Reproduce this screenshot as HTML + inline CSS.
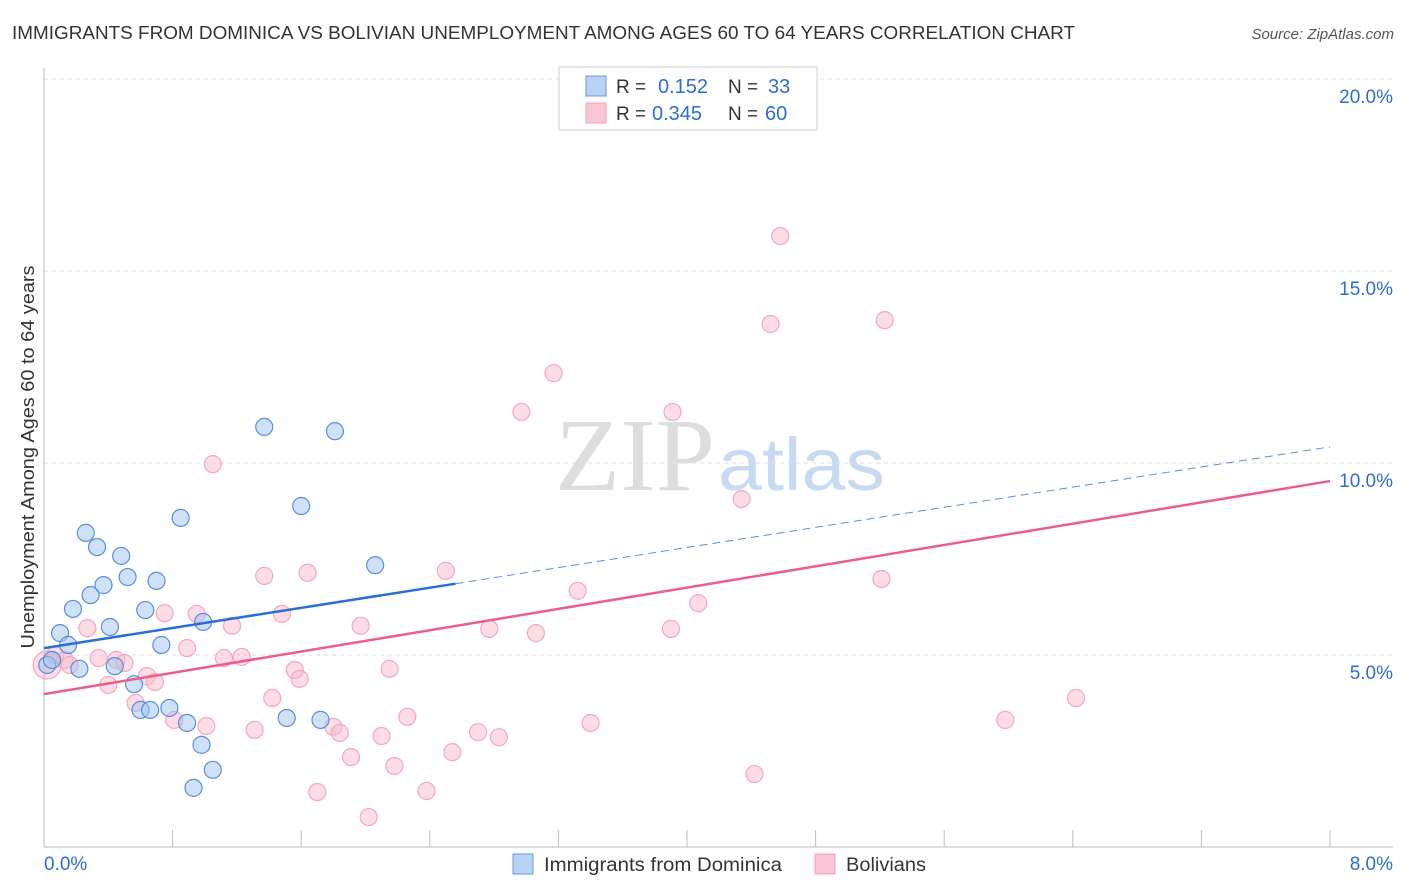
<!DOCTYPE html>
<html><head><meta charset="utf-8"><style>
body{margin:0;background:#fff;font-family:"Liberation Sans",sans-serif}
</style></head><body>
<svg id="c" width="1406" height="892" style="display:block">
<text x="12" y="39" font-size="18" fill="#333" textLength="1063" lengthAdjust="spacingAndGlyphs">IMMIGRANTS FROM DOMINICA VS BOLIVIAN UNEMPLOYMENT AMONG AGES 60 TO 64 YEARS CORRELATION CHART</text>
<text x="1394" y="39" font-size="15" fill="#555" font-style="italic" text-anchor="end">Source: ZipAtlas.com</text>
<text x="555" y="490" font-size="104" fill="#ddd" textLength="160" lengthAdjust="spacingAndGlyphs" font-family="Liberation Serif">ZIP</text>
<text x="718" y="490" font-size="74" fill="#c8daf2" textLength="167" lengthAdjust="spacingAndGlyphs">atlas</text>
<g id="grid"></g><g id="axes"></g><g id="pts"></g><g id="lines"></g>
<text transform="translate(34,457) rotate(-90)" font-size="18" fill="#333" text-anchor="middle" textLength="383" lengthAdjust="spacingAndGlyphs">Unemployment Among Ages 60 to 64 years</text>
<g>
<rect x="559" y="67" width="258" height="63" fill="#fff" stroke="#ccc"/>
<rect x="586" y="76" width="20" height="20" fill="#b8d2f4" stroke="#6a9ad8"/>
<rect x="586" y="103" width="20" height="20" fill="#f9c6d4" stroke="#f0a0b8"/>
<text x="616" y="93" font-size="19" fill="#333">R =</text>
<text x="658" y="93" font-size="20" fill="#2a6fd6">0.152</text>
<text x="728" y="93" font-size="19" fill="#333">N =</text>
<text x="768" y="93" font-size="20" fill="#2a6fd6">33</text>
<text x="616" y="120" font-size="19" fill="#333">R =</text>
<text x="652" y="120" font-size="20" fill="#2a6fd6">0.345</text>
<text x="728" y="120" font-size="19" fill="#333">N =</text>
<text x="765" y="120" font-size="20" fill="#2a6fd6">60</text>
</g>
<g>
<rect x="513" y="854" width="20" height="20" fill="#b8d2f4" stroke="#6a9ad8"/>
<text x="544" y="871" font-size="19" fill="#333" textLength="238" lengthAdjust="spacingAndGlyphs">Immigrants from Dominica</text>
<rect x="815" y="854" width="20" height="20" fill="#f9c6d4" stroke="#f0a0b8"/>
<text x="846" y="871" font-size="19" fill="#333" textLength="80" lengthAdjust="spacingAndGlyphs">Bolivians</text>
</g>
</svg>
<script>
const yTicks=[5,10,15,20];
const xTickLabels=["0.0%","8.0%"];
const blueX=[0.02,0.05,0.10,0.15,0.22,0.18,0.26,0.29,0.33,0.37,0.41,0.44,0.48,0.52,0.56,0.60,0.63,0.66,0.70,0.73,0.78,0.85,0.89,0.93,0.98,0.99,1.05,1.37,1.51,1.60,1.72,1.81,2.06];
const blueY=[4.74,4.87,5.57,5.26,4.64,6.20,8.18,6.56,7.81,6.82,5.73,4.71,7.58,7.03,4.24,3.57,6.17,3.57,6.93,5.26,3.62,8.57,3.23,1.54,2.66,5.86,2.01,10.94,3.36,8.88,3.31,10.83,7.34];
const pinkX=[0.02,0.07,0.13,0.16,0.27,0.34,0.40,0.45,0.50,0.57,0.64,0.69,0.75,0.81,0.89,0.95,1.01,1.05,1.12,1.17,1.23,1.31,1.37,1.42,1.48,1.56,1.59,1.64,1.70,1.80,1.84,1.91,1.97,2.02,2.10,2.15,2.18,2.26,2.38,2.50,2.54,2.70,2.77,2.83,2.97,3.06,3.17,3.32,3.40,3.90,3.91,4.07,4.34,4.42,4.52,4.58,5.21,5.23,5.98,6.42];
const pinkY=[4.74,5.00,4.87,4.74,5.70,4.92,4.22,4.87,4.79,3.75,4.45,4.30,6.09,3.31,5.18,6.07,3.15,9.97,4.92,5.76,4.95,3.05,7.06,3.88,6.07,4.61,4.38,7.14,1.43,3.13,2.97,2.34,5.76,0.78,2.89,4.64,2.11,3.39,1.46,7.19,2.47,2.99,5.68,2.86,11.33,5.57,12.34,6.67,3.23,5.68,11.33,6.35,9.06,1.90,13.62,15.91,6.98,13.72,3.31,3.88];
const blueFit=[5.18,10.42], blueSolidEnd=2.56;
const pinkFit=[3.98,9.53];
const NS="http://www.w3.org/2000/svg";
const X=v=>44+v/8*1286, Y=v=>847-v*38.4;
function mk(p,t,a){const e=document.createElementNS(NS,t);for(const k in a)e.setAttribute(k,a[k]);document.getElementById(p).appendChild(e);return e;}
yTicks.forEach(t=>{
 const l=mk('grid','line',{x1:44,x2:1393,y1:Y(t),y2:Y(t),stroke:'#ddd','stroke-dasharray':'4,4'});
 
 
 const tx=mk('grid','text',{x:1393,y:Y(t)+24,'font-size':19,fill:'#2a6fd6','text-anchor':'end'});tx.textContent=t.toFixed(1)+'%';
 
 
});
mk('axes','line',{x1:44,x2:44,y1:68,y2:847,stroke:'#bbb'});
mk('axes','line',{x1:44,x2:1393,y1:847,y2:847,stroke:'#bbb'});
for(let i=0;i<=10;i++){mk('axes','line',{x1:X(i*0.8),x2:X(i*0.8),y1:830,y2:847,stroke:'#bbb'});}
const xl0=mk('axes','text',{x:44,y:870,'font-size':19,fill:'#2a6fd6'});xl0.textContent=xTickLabels[0];


const xl1=mk('axes','text',{x:1393,y:870,'font-size':19,fill:'#2a6fd6','text-anchor':'end'});xl1.textContent=xTickLabels[1];


pinkX.forEach((x,i)=>{const c=mk('pts','circle',{cx:X(x),cy:Y(pinkY[i]),r:i==0?14:8.5,fill:'rgba(248,180,200,0.45)',stroke:'#f2a8bf','stroke-width':1.2});
 
 });
blueX.forEach((x,i)=>{const c=mk('pts','circle',{cx:X(x),cy:Y(blueY[i]),r:8.5,fill:'rgba(160,196,240,0.5)',stroke:'#5b8fd8','stroke-width':1.2});
 
 });
const by=x=>blueFit[0]+(blueFit[1]-blueFit[0])*x/8, py=x=>pinkFit[0]+(pinkFit[1]-pinkFit[0])*x/8;
const b1=mk('lines','line',{x1:X(0),y1:Y(by(0)),x2:X(blueSolidEnd),y2:Y(by(blueSolidEnd)),stroke:'#2a6fd6','stroke-width':2.5});


const b2=mk('lines','line',{x1:X(blueSolidEnd),y1:Y(by(blueSolidEnd)),x2:X(8),y2:Y(by(8)),stroke:'#5b8fd8','stroke-width':1,'stroke-dasharray':'8,5'});


const p1=mk('lines','line',{x1:X(0),y1:Y(py(0)),x2:X(8),y2:Y(py(8)),stroke:'#e8608a','stroke-width':2.5});


</script>
</body></html>
